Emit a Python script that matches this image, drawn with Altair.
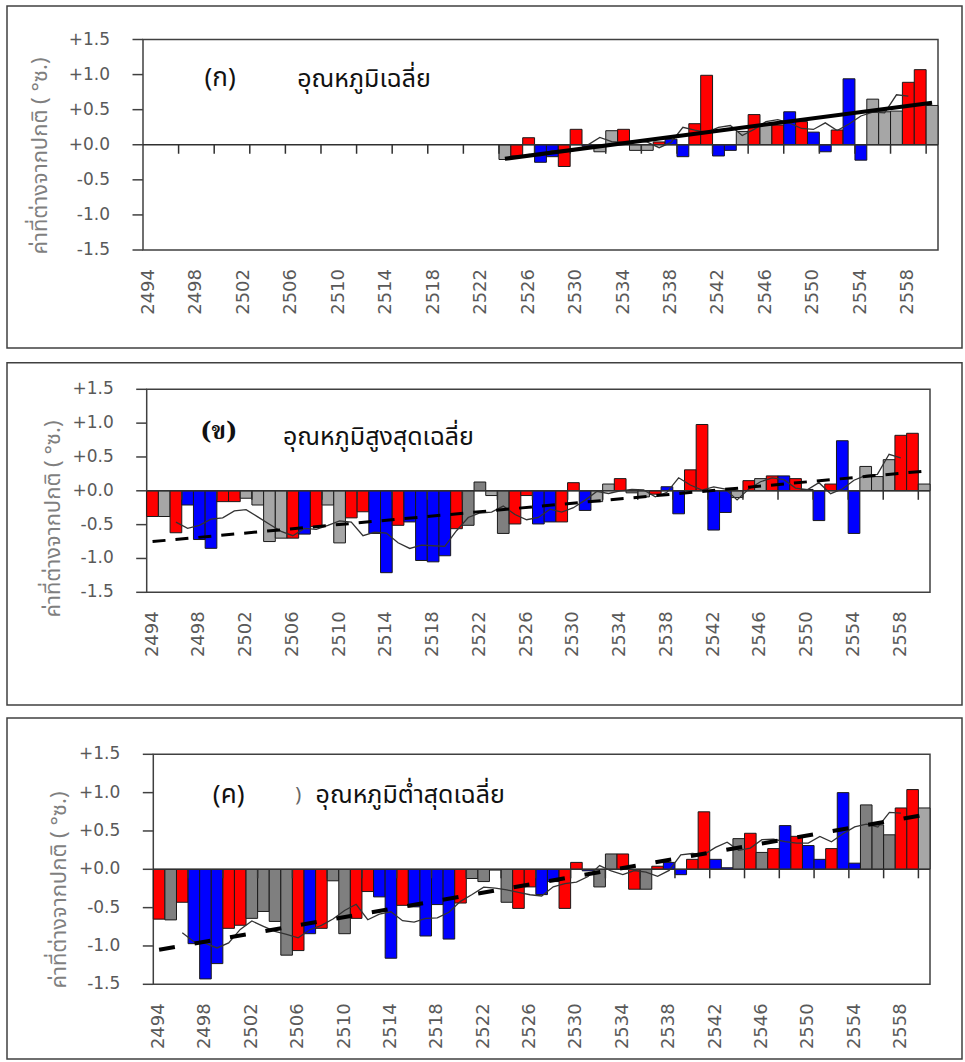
import altair as alt
import pandas as pd

# ---------------- data ----------------
years = list(range(2494, 2561))
x_label_years = [2494, 2498, 2502, 2506, 2510, 2514, 2518, 2522, 2526,
                 2530, 2534, 2538, 2542, 2546, 2550, 2554, 2558]
y_tick_values = [-1.5, -1.0, -0.5, 0.0, 0.5, 1.0, 1.5]

# (ก) mean temperature anomaly, 2524-2560
avg_years = list(range(2524, 2561))
avg_values = [-0.21, -0.16, 0.10, -0.25, -0.17, -0.31, 0.22, -0.02, -0.10, 0.20,
              0.22, -0.08, -0.08, 0.04, 0.08, -0.17, 0.30, 0.99, -0.16, -0.08,
              0.19, 0.43, 0.28, 0.28, 0.47, 0.33, 0.18, -0.10, 0.21, 0.94,
              -0.22, 0.65, 0.47, 0.48, 0.89, 1.07, 0.56]
avg_colors = ["G", "R", "R", "B", "B", "R", "R", "B", "G", "G",
              "R", "G", "G", "R", "B", "B", "R", "R", "B", "B",
              "G", "R", "G", "R", "B", "R", "B", "B", "R", "B",
              "B", "G", "G", "G", "R", "R", "G"]
avg_trend_years = [2524, 2560]
avg_trend_values = [-0.20, 0.60]

# (ข) mean maximum temperature anomaly, 2494-2560
max_values = [-0.38, -0.38, -0.62, -0.21, -0.72, -0.85, -0.16, -0.16, -0.11, -0.21,
              -0.75, -0.70, -0.70, -0.64, -0.53, -0.21, -0.77, -0.40, -0.31, -0.63,
              -1.21, -0.51, -0.46, -1.03, -1.05, -0.96, -0.56, -0.51, 0.13, -0.07,
              -0.63, -0.49, -0.07, -0.49, -0.46, -0.46, 0.12, -0.29, -0.16, 0.10,
              0.18, -0.03, -0.09, -0.05, 0.06, -0.34, 0.31, 0.98, -0.58, -0.32,
              -0.10, 0.15, 0.18, 0.22, 0.22, 0.18, 0.02, -0.44, 0.10, 0.74,
              -0.63, 0.36, 0.21, 0.46, 0.82, 0.85, 0.10]
max_colors = ["R", "G", "R", "B", "B", "B", "R", "R", "G", "G",
              "G", "G", "R", "B", "R", "G", "G", "R", "R", "B",
              "B", "R", "B", "B", "B", "B", "R", "D", "D", "G",
              "D", "R", "R", "B", "B", "R", "R", "B", "G", "G",
              "R", "G", "G", "R", "B", "B", "R", "R", "B", "B",
              "G", "R", "G", "R", "B", "R", "B", "B", "R", "B",
              "B", "G", "G", "G", "R", "R", "G"]
max_trend_years = [2494, 2560]
max_trend_values = [-0.75, 0.29]

# (ค) mean minimum temperature anomaly, 2494-2560
min_values = [-0.65, -0.66, -0.43, -0.97, -1.43, -1.23, -0.77, -0.73, -0.64, -0.55,
              -0.68, -1.12, -1.06, -0.84, -0.77, -0.15, -0.84, -0.64, -0.29, -0.36,
              -1.16, -0.47, -0.49, -0.87, -0.46, -0.91, -0.44, -0.12, -0.16, -0.01,
              -0.43, -0.51, -0.23, -0.33, -0.16, -0.51, 0.09, -0.02, -0.23, 0.20,
              0.20, -0.26, -0.26, 0.04, 0.09, -0.07, 0.13, 0.75, 0.13, 0.02,
              0.40, 0.47, 0.22, 0.27, 0.57, 0.43, 0.31, 0.13, 0.27, 1.00,
              0.08, 0.84, 0.58, 0.45, 0.80, 1.04, 0.80]
min_colors = ["R", "D", "R", "B", "B", "B", "R", "R", "D", "D",
              "D", "D", "R", "B", "R", "D", "D", "R", "R", "B",
              "B", "R", "B", "B", "B", "B", "R", "D", "D", "D",
              "D", "R", "R", "B", "B", "R", "R", "B", "D", "D",
              "R", "R", "D", "R", "B", "B", "R", "R", "B", "B",
              "D", "R", "D", "R", "B", "R", "B", "B", "R", "B",
              "B", "D", "D", "D", "R", "R", "G"]
min_trend_years = [2494, 2560]
min_trend_values = [-1.05, 0.71]

y_title = "ค่าที่ต่างจากปกติ ( °ซ.)"

COLOR_DOMAIN = ["R", "B", "G", "D"]
COLOR_RANGE = ["#ff0000", "#0000ff", "#a6a6a6", "#7f7f7f"]

NUM_FONT = "DejaVu Sans"
THAI_FONT = "Tahoma, 'Noto Sans Thai', 'Noto Sans', 'DejaVu Sans', sans-serif"
FRAME = "#404040"
LABEL_COLOR = "#595959"

W, H = 965, 1062  # whole figure


def panel(bar_years, values, colors, trend_years, trend_values, trend_width,
          trend_dash, plot, box, title_pos, notes):
    L, R, T, B = plot
    df = pd.DataFrame({"year": bar_years, "v": values, "c": colors})
    x_scale = alt.Scale(domain=years, range=[L, R], paddingInner=0, paddingOuter=0)
    y_scale = alt.Scale(domain=[-1.5, 1.5], range=[B, T], nice=False)

    def X(field="year:O", **kw):
        return alt.X(field, scale=x_scale, axis=None, **kw)

    def Y(field="v:Q"):
        return alt.Y(field, scale=y_scale, axis=None)

    one = pd.DataFrame({"k": [0]})

    # outer panel box and plot-area frame
    outer = alt.Chart(one).mark_rect(fillOpacity=0, stroke=FRAME, strokeWidth=1.5).encode(
        x=alt.value(box[0]), x2=alt.value(box[1]), y=alt.value(box[2]), y2=alt.value(box[3]))
    inner = alt.Chart(one).mark_rect(fill="white", stroke=FRAME, strokeWidth=1.5).encode(
        x=alt.value(L), x2=alt.value(R), y=alt.value(T), y2=alt.value(B))

    bars = alt.Chart(df).mark_bar(stroke="#1a1a1a", strokeWidth=1).encode(
        x=X(), y=Y(),
        color=alt.Color("c:N", scale=alt.Scale(domain=COLOR_DOMAIN, range=COLOR_RANGE),
                        legend=None))

    zero = alt.Chart(pd.DataFrame({"v": [0.0]})).mark_rule(
        color="#303030", strokeWidth=1.5).encode(x=alt.value(L), x2=alt.value(R), y=Y())

    tick_len = 27.0 / (B - T)
    ticks = alt.Chart(pd.DataFrame({"year": years})).transform_filter(
        "(datum.year - 2494) % 3 == 0 && datum.year > 2494"
    ).transform_calculate(v0="0", v1=str(-tick_len)).mark_rule(
        color="#303030", strokeWidth=1.5).encode(
        x=X(bandPosition=0), y=Y("v0:Q"), y2=alt.Y2("v1:Q"))

    # y axis: tick marks and labels
    ytick_df = pd.DataFrame({"v": y_tick_values})
    ytick_rules = alt.Chart(ytick_df).mark_rule(color=FRAME, strokeWidth=1.5).encode(
        x=alt.value(L - 10.5), x2=alt.value(L), y=Y())
    ytick_labels = alt.Chart(ytick_df).transform_calculate(
        lab="(datum.v >= 0 ? '+' : '-') + format(abs(datum.v), '.1f')"
    ).mark_text(align="right", baseline="middle", fontSize=17, font=NUM_FONT,
                color=LABEL_COLOR).encode(x=alt.value(L - 33), y=Y(), text="lab:N")

    # x axis labels (rotated)
    xlab = alt.Chart(pd.DataFrame({"year": x_label_years})).transform_calculate(
        lab="'' + datum.year"
    ).mark_text(angle=270, align="right", baseline="middle", fontSize=18,
                font=NUM_FONT, color=LABEL_COLOR).encode(
        x=X(), y=alt.value(B + 19), text="lab:N")

    ma = alt.Chart(df).transform_window(
        ma="mean(v)", n="count()", frame=[-2, 2], sort=[alt.SortField("year")]
    ).transform_filter("datum.n == 5").mark_line(
        color="#333333", strokeWidth=1.3).encode(x=X(), y=Y("ma:Q"))

    tdf = pd.DataFrame({"year": trend_years, "v": trend_values})
    line_kw = dict(color="black", strokeWidth=trend_width)
    if trend_dash:
        line_kw["strokeDash"] = trend_dash
    trend = alt.Chart(tdf).mark_line(**line_kw).encode(x=X(), y=Y())

    layers = [outer, inner, bars, zero, ticks, ytick_rules, ytick_labels, xlab, ma, trend]
    for n in notes:
        ndf = pd.DataFrame({"year": [n["year"]], "v": [n["v"]], "t": [n["text"]]})
        layers.append(
            alt.Chart(ndf).mark_text(
                align=n.get("align", "center"), baseline="middle",
                fontSize=n.get("size", 25), font=n.get("font", THAI_FONT),
                fontWeight=n.get("weight", "normal"), color=n.get("color", "#111111"),
                dx=n.get("dx", 0)
            ).encode(x=X(bandPosition=n.get("band", 0.5)), y=Y(), text="t:N"))

    ytitle = alt.Chart(one).mark_text(
        angle=270, align="center", baseline="middle", fontSize=22, font=THAI_FONT,
        color="#7f7f7f", text=y_title
    ).encode(x=alt.value(title_pos[0]), y=alt.value(title_pos[1]))
    layers.append(ytitle)

    return alt.layer(*layers)


p1 = panel(avg_years, avg_values, avg_colors, avg_trend_years, avg_trend_values,
           4, None, (143, 938, 39.5, 250), (7, 962, 6, 348), (40, 156),
           [dict(year=2500, v=0.95, text="(ก)", size=26),
            dict(year=2507, v=0.93, text="อุณหภูมิเฉลี่ย", align="left", band=0)])

p2 = panel(years, max_values, max_colors, max_trend_years, max_trend_values,
           3, [13, 10], (146.7, 930, 389.3, 592.3), (7, 962, 362.7, 705), (53, 519),
           [dict(year=2500, v=0.87, text="(ข)", dx=-4, weight="bold", size=24,
                 font="'DejaVu Serif', 'Noto Serif Thai', serif"),
            dict(year=2506, v=0.80, text="อุณหภูมิสูงสุดเฉลี่ย", align="left", band=0, dx=-4)])

p3 = panel(years, min_values, min_colors, min_trend_years, min_trend_values,
           4, [16, 20], (153.3, 930, 754.3, 984.3), (7, 962, 718, 1059), (59, 890),
           [dict(year=2500, v=0.97, text="(ค)", size=26),
            dict(year=2506, v=0.97, text=")", color="#666666", size=20),
            dict(year=2508, v=0.97, text="อุณหภูมิต่ำสุดเฉลี่ย", align="left", band=0)])

chart = alt.layer(p1, p2, p3).resolve_scale(
    x="independent", y="independent"
).properties(
    width=W, height=H, padding=0, background="white",
    autosize=alt.AutoSizeParams(type="none")
).configure_view(strokeWidth=0)

chart.save("out.html", embed_options={"renderer": "svg", "actions": False})
